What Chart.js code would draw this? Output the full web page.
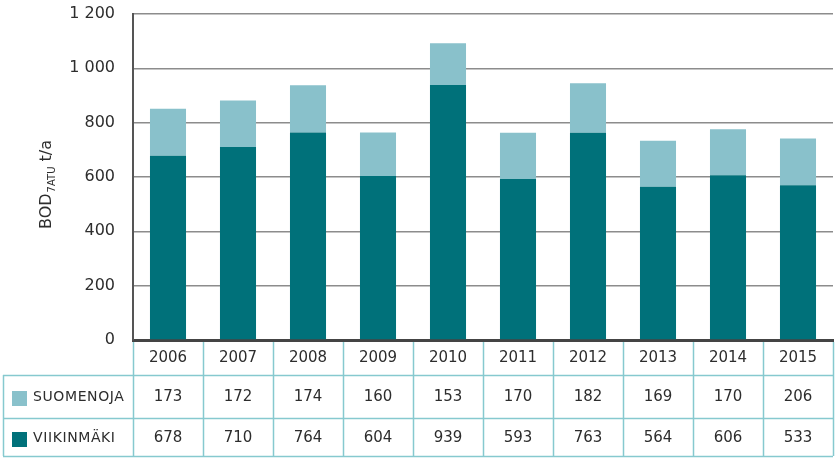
<!DOCTYPE html>
<html>
<head>
<meta charset="utf-8">
<script src="https://cdn.jsdelivr.net/npm/chart.js@4"></script>
<style>
  html, body { margin: 0; padding: 0; background: #fff; }
  #wrap { width: 839px; height: 459px; }
</style>
</head>
<body>
<div id="wrap"><canvas id="myChart" width="839" height="459"></canvas></div>
<script>
// years along the x axis
var years = ['2006', '2007', '2008', '2009', '2010', '2011', '2012', '2013', '2014', '2015'];

// bar heights (t/a)
var viikinmakiBars = [678, 710, 764, 604, 939, 593, 763, 564, 606, 570];
var suomenojaBars  = [173, 172, 174, 160, 153, 170, 182, 169, 170, 172];

// numbers printed in the table under the chart
var suomenojaTable  = [173, 172, 174, 160, 153, 170, 182, 169, 170, 206];
var viikinmakiTable = [678, 710, 764, 604, 939, 593, 763, 564, 606, 533];

var yTicks = [0, 200, 400, 600, 800, 1000, 1200];

var DARK = '#00717a';
var LIGHT = '#89c1cb';
var LINE = '#86c9cf';
var TEXT = '#2d2d2d';
var FONT = "'DejaVu Sans', sans-serif";

/* draws the data table, legend keys and the y title */
var tablePlugin = {
  id: 'tablePlugin',
  afterDraw: function(chart) {
    var ctx = chart.ctx;
    var x = chart.scales.x;
    var area = chart.chartArea;
    var n = years.length;
    var colW = (area.right - area.left) / n;
    var top = area.bottom;
    var r1 = top + 35, r2 = top + 78, r3 = top + 116;
    var left = 3, right = area.right;

    ctx.save();
    ctx.strokeStyle = LINE;
    ctx.lineWidth = 1.5;
    ctx.beginPath();
    // column boundaries
    for (var i = 0; i <= n; i++) {
      var cx = Math.round(area.left + i * colW) + 0.5;
      ctx.moveTo(cx, top + 2);
      ctx.lineTo(cx, r3);
    }
    // row lines
    [r1, r2, r3].forEach(function(y) {
      ctx.moveTo(left, y + 0.5);
      ctx.lineTo(right, y + 0.5);
    });
    ctx.moveTo(left + 0.5, r1);
    ctx.lineTo(left + 0.5, r3);
    ctx.stroke();

    // legend keys
    ctx.fillStyle = LIGHT;
    ctx.fillRect(12, r1 + 16, 15, 15);
    ctx.fillStyle = DARK;
    ctx.fillRect(12, r2 + 14, 15, 15);

    ctx.fillStyle = TEXT;
    ctx.font = '14px ' + FONT;
    ctx.textBaseline = 'middle';
    ctx.textAlign = 'left';
    ctx.letterSpacing = '0.6px';
    ctx.fillText('SUOMENOJA', 33, (r1 + r2) / 2 + 1);
    ctx.fillText('VIIKINMÄKI', 33, (r2 + r3) / 2 + 1);
    ctx.letterSpacing = '0px';

    // values
    ctx.font = '15px ' + FONT;
    ctx.textAlign = 'center';
    for (var j = 0; j < n; j++) {
      var px = x.getPixelForValue(j);
      ctx.fillText(String(suomenojaTable[j]), px, (r1 + r2) / 2 + 1);
      ctx.fillText(String(viikinmakiTable[j]), px, (r2 + r3) / 2 + 1);
    }

    // y axis title with subscript
    ctx.translate(45, 185);
    ctx.rotate(-Math.PI / 2);
    ctx.textAlign = 'left';
    ctx.textBaseline = 'alphabetic';
    var big = '16px ' + FONT, small = '10px ' + FONT;
    ctx.font = big;
    var w1 = ctx.measureText('BOD').width;
    var w3 = ctx.measureText(' t/a').width;
    ctx.font = small;
    var w2 = ctx.measureText('7ATU').width;
    var sx = -(w1 + w2 + w3) / 2;
    ctx.font = big;
    ctx.fillText('BOD', sx, 6);
    ctx.font = small;
    ctx.fillText('7ATU', sx + w1 + 1, 10);
    ctx.font = big;
    ctx.fillText(' t/a', sx + w1 + w2 + 1, 6);
    ctx.restore();
  }
};

var data = {
  labels: years,
  datasets: [
    {
      label: 'VIIKINMÄKI',
      data: viikinmakiBars,
      backgroundColor: DARK,
      barPercentage: 0.515,
      categoryPercentage: 1
    },
    {
      label: 'SUOMENOJA',
      data: suomenojaBars,
      backgroundColor: LIGHT,
      barPercentage: 0.515,
      categoryPercentage: 1
    }
  ]
};

const config = {
  type: 'bar',
  data: data,
  plugins: [tablePlugin],
  options: {
    responsive: false,
    animation: false,
    layout: {
      padding: { top: 14, bottom: 84, right: 6, left: 0 }
    },
    scales: {
      x: {
        stacked: true,
        grid: { display: false, drawTicks: false },
        border: { color: '#444444', width: 3 },
        ticks: {
          color: TEXT,
          font: { family: FONT, size: 15 },
          padding: 9,
          maxRotation: 0
        },
        afterFit: function(scale) { scale.height = 35; }
      },
      y: {
        stacked: true,
        min: 0,
        max: 1200,
        afterBuildTicks: function(scale) {
          scale.ticks = yTicks.map(function(v) { return { value: v }; });
        },
        grid: {
          color: '#8c8c8c',
          lineWidth: 1.5,
          drawTicks: false
        },
        border: { color: '#555555', width: 2 },
        ticks: {
          color: TEXT,
          font: { family: FONT, size: 16 },
          padding: 18,
          callback: function(v) {
            return String(v).replace(/\B(?=(\d{3})+(?!\d))/g, ' ');
          }
        },
        afterFit: function(scale) {
          scale.width = 133;
          scale.paddingTop = 0;
          scale.paddingBottom = 0;
        }
      }
    },
    plugins: {
      legend: { display: false },
      tooltip: { enabled: false },
      title: { display: false }
    }
  }
};

var myChart = new Chart(document.getElementById('myChart'), config);
</script>
</body>
</html>
